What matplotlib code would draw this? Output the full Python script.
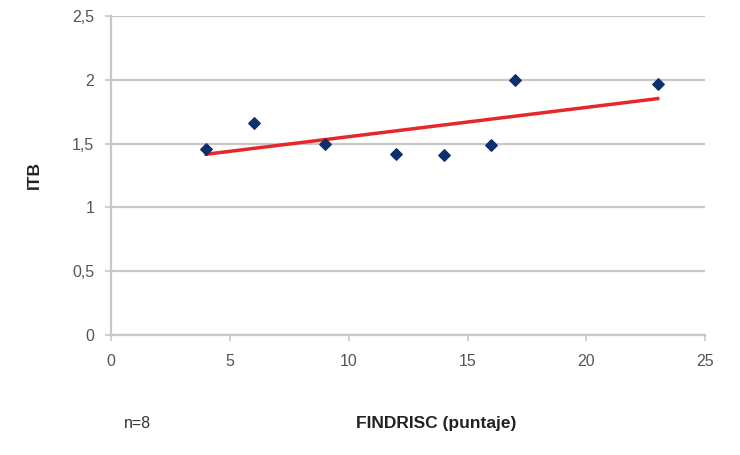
import numpy as np
import matplotlib
matplotlib.use("Agg")
import matplotlib.pyplot as plt
from matplotlib.ticker import FuncFormatter

findrisc = [4, 6, 9, 12, 14, 16, 17, 23]
itb = [1.46, 1.66, 1.50, 1.42, 1.41, 1.49, 2.00, 1.97]
x_ticks = [0, 5, 10, 15, 20, 25]
y_ticks = [0, 0.5, 1, 1.5, 2, 2.5]

plt.rcParams['font.family'] = ['Liberation Sans', 'DejaVu Sans']

fig = plt.figure(figsize=(7.4, 4.55), dpi=100)
ax = fig.add_axes([0.15, 0.264, 0.803, 0.701])

grid_c = '#c8c8c8'
ax.set_xlim(0, 25)
ax.set_ylim(0, 2.5)
ax.set_xticks(x_ticks)
ax.set_yticks(y_ticks)
ax.yaxis.grid(True, color=grid_c, linewidth=1.6)
ax.set_axisbelow(True)
for s in ['top', 'right']:
    ax.spines[s].set_visible(False)
for s in ['left', 'bottom']:
    ax.spines[s].set_color(grid_c)
    ax.spines[s].set_linewidth(1.6)
ax.tick_params(axis='both', colors=grid_c, length=4, width=1.2, labelcolor='#555555', labelsize=11.5)
ax.tick_params(axis='x', pad=10)
ax.tick_params(axis='y', pad=8)

fmt = FuncFormatter(lambda v, p: (('%g' % v).replace('.', ',')))
ax.xaxis.set_major_formatter(fmt)
ax.yaxis.set_major_formatter(fmt)

ax.scatter(findrisc, itb, marker='D', s=34, color='#0d2f6e', zorder=3)

slope, intercept = np.polyfit(findrisc, itb, 1)
xs = np.array([min(findrisc), max(findrisc)])
ax.plot(xs, slope * xs + intercept, color='#e8262a', linewidth=2.5, zorder=2)

ax.set_ylabel('ITB', fontsize=12.5, fontweight='bold', color='#222222', labelpad=22)
fig.text(0.59, 0.07, 'FINDRISC (puntaje)', ha='center', va='center', fontsize=12.5,
         fontweight='bold', color='#222222')
fig.text(0.168, 0.07, 'n=8', ha='left', va='center', fontsize=11.5, color='#333333')

fig.savefig('out.png', dpi=100)
